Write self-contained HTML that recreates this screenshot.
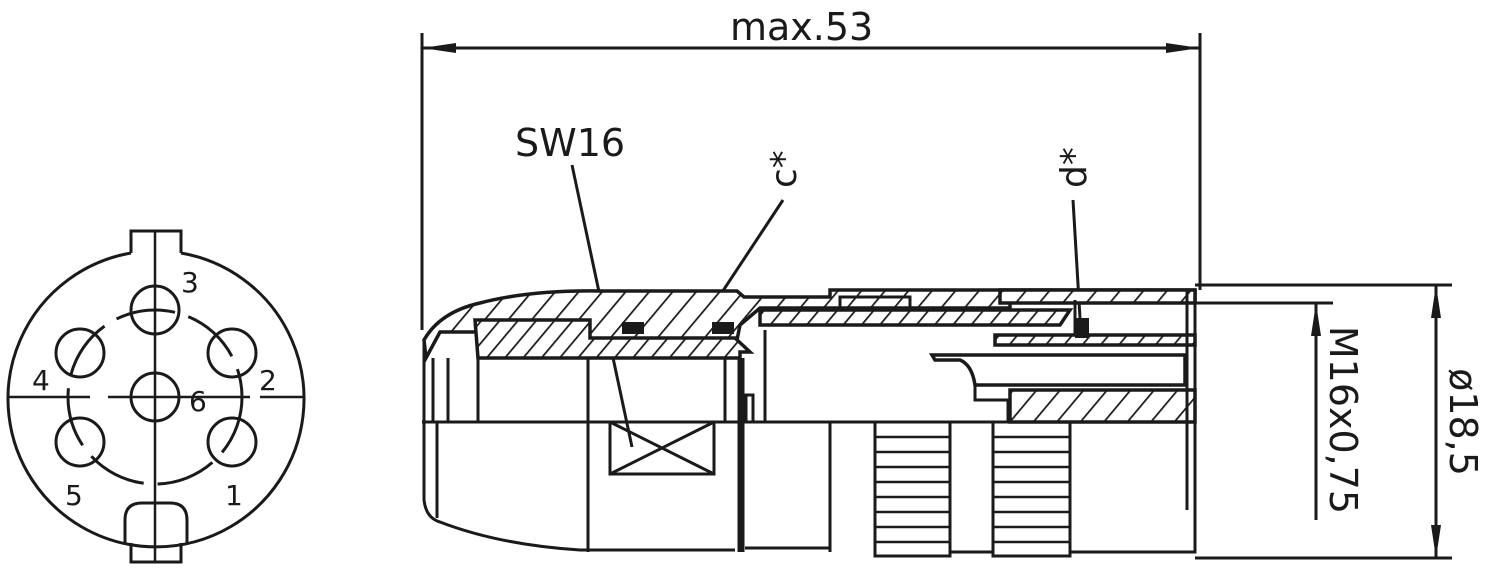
<!DOCTYPE html>
<html><head><meta charset="utf-8"><style>
html,body{margin:0;padding:0;background:#fff;width:1488px;height:573px;overflow:hidden}
svg{display:block}
text{font-family:"DejaVu Sans","Liberation Sans",sans-serif;fill:#1a1a1a}
</style></head><body>
<svg width="1488" height="573" viewBox="0 0 1488 573" xmlns="http://www.w3.org/2000/svg">
<defs>
<pattern id="h" patternUnits="userSpaceOnUse" width="18" height="18" patternTransform="rotate(40)">
<rect width="18" height="18" fill="#fff"/><line x1="0" y1="0" x2="0" y2="18" stroke="#1a1a1a" stroke-width="3.5"/>
</pattern>
<pattern id="h2" patternUnits="userSpaceOnUse" width="14" height="14" patternTransform="rotate(40)">
<rect width="14" height="14" fill="#fff"/><line x1="0" y1="0" x2="0" y2="14" stroke="#1a1a1a" stroke-width="3.5"/>
</pattern>
</defs>
<g stroke="#1a1a1a" fill="none" stroke-width="3">
<path d="M131,253 A148,148 0 1 0 181,253"/>
<path d="M131,253 V231 H181 V253"/>
<path d="M125,543 V520 Q125,503 142,503 H170 Q187,503 187,520 V543"/>
<path d="M131,543 V562 H181 V543"/>
<line x1="155" y1="231" x2="155" y2="562" stroke-width="2.5"/>
<line x1="8" y1="397" x2="90" y2="397" stroke-width="2.5"/>
<line x1="108" y1="397" x2="250" y2="397" stroke-width="2.5"/>
<line x1="260" y1="397" x2="303" y2="397" stroke-width="2.5"/>
<circle cx="155" cy="310" r="24"/>
<circle cx="155" cy="397" r="24"/>
<circle cx="80" cy="353" r="24"/>
<circle cx="232" cy="353" r="24"/>
<circle cx="80" cy="442" r="24"/>
<circle cx="232" cy="442" r="24"/>
<circle cx="155" cy="397" r="87" stroke-dasharray="60,14"/>
</g>
<g font-size="28">
<text x="181" y="292">3</text>
<text x="259" y="390">2</text>
<text x="32" y="390">4</text>
<text x="189" y="411">6</text>
<text x="65" y="505">5</text>
<text x="225" y="505">1</text>
</g>

<g stroke="#1a1a1a" stroke-width="3" fill="none">
<line x1="422" y1="33" x2="422" y2="330"/>
<line x1="1200" y1="33" x2="1200" y2="290"/>
<line x1="422" y1="48" x2="1200" y2="48"/>
</g>
<path d="M422,48 L456,43 L456,53Z M1200,48 L1166,43 L1166,53Z" fill="#1a1a1a"/>
<text x="730" y="40" font-size="38">max.53</text>
<text x="515" y="156" font-size="38">SW16</text>
<text transform="translate(796,188) rotate(-90)" font-size="36">c*</text>
<text transform="translate(1086,188) rotate(-90)" font-size="36">d*</text>
<g stroke="#1a1a1a" stroke-width="3">
<line x1="572" y1="165" x2="632" y2="447"/>
<line x1="783" y1="200" x2="705" y2="318"/>
<line x1="1073" y1="200" x2="1080" y2="318"/>
</g>

<g stroke="#1a1a1a" stroke-width="3.5">
<path d="M424,340 Q440,312 480,303 Q530,290 600,291 H737 L744,297 H830 V290 H1195 V302 H1010 V308 H760 L740,325 L735,350 H478 V332 H440 L426,358Z" fill="url(#h)"/>
<path d="M475,320 H590 V338 H735 L750,352 H740 V358 H478Z" fill="url(#h2)"/>
<path d="M760,310 H1070 L1060,325 H760Z" fill="url(#h2)"/>
<path d="M995,335 H1195 V345 H995Z" fill="url(#h2)"/>
<path d="M1010,390 H1195 V422 H1010Z" fill="url(#h)"/>
<path d="M1000,290 H1195 V303 H1000Z" fill="url(#h)"/>
</g>
<g stroke="#1a1a1a" stroke-width="3" fill="none">
<path d="M424,340 V500 Q426,518 440,522 Q500,545 580,550 H735"/>
<line x1="422" y1="422" x2="1195" y2="422"/>
<line x1="433" y1="358" x2="433" y2="422"/>
<line x1="448" y1="358" x2="448" y2="422"/>
<line x1="478" y1="358" x2="478" y2="422"/>
<line x1="437" y1="422" x2="437" y2="518"/>
<line x1="588" y1="358" x2="588" y2="552"/>
<line x1="725" y1="358" x2="725" y2="422"/>
<rect x="610" y="422" width="104" height="52"/>
<path d="M610,422 L714,474 M610,474 L714,422"/>
<line x1="741" y1="358" x2="741" y2="552" stroke-width="7"/>
<path d="M746,422 V395 H753 V422"/>
<line x1="765" y1="330" x2="765" y2="422"/>
<path d="M745,548 H830 V552"/>
<line x1="830" y1="422" x2="830" y2="552"/>
<rect x="875" y="422" width="75" height="134"/>
<rect x="993" y="422" width="77" height="134"/>
<path d="M950,552 H993 M1070,552 H1195 V290"/>
<line x1="1187" y1="290" x2="1187" y2="510"/>
<path d="M932,355 H1185 V385 H975 Q972,365 960,360 H935Z" stroke-width="3.5"/>
<path d="M975,385 V400 H1008 V422"/>
<line x1="1075" y1="300" x2="1075" y2="335"/>
<rect x="840" y="297" width="70" height="13"/>
</g>
<g stroke="#1a1a1a" stroke-width="2.5">
<path d="M875,437H950M875,452H950M875,467H950M875,482H950M875,497H950M875,512H950M875,527H950M875,542H950"/>
<path d="M993,437H1070M993,452H1070M993,467H1070M993,482H1070M993,497H1070M993,512H1070M993,527H1070M993,542H1070"/>
</g>
<g fill="#1a1a1a">
<rect x="622" y="322" width="22" height="12"/>
<rect x="712" y="322" width="22" height="12"/>
<rect x="1075" y="318" width="14" height="20"/>
</g>

<g stroke="#1a1a1a" stroke-width="3">
<line x1="1195" y1="285" x2="1452" y2="285"/>
<line x1="1195" y1="558" x2="1452" y2="558"/>
<line x1="1195" y1="303" x2="1333" y2="303"/>
<line x1="1316" y1="303" x2="1316" y2="520"/>
<line x1="1436" y1="285" x2="1436" y2="558"/>
</g>
<path d="M1316,303 L1311,336 L1321,336Z M1436,285 L1431,318 L1441,318Z M1436,558 L1431,525 L1441,525Z" fill="#1a1a1a"/>
<text transform="translate(1330,420) rotate(90)" text-anchor="middle" font-size="38">M16x0,75</text>
<text transform="translate(1450,422) rotate(90)" text-anchor="middle" font-size="38">ø18,5</text>
</svg>
</body></html>
